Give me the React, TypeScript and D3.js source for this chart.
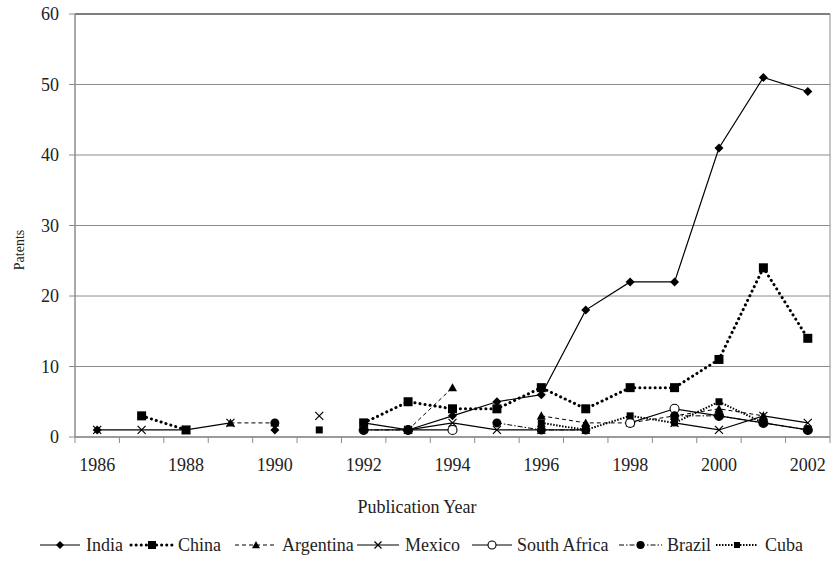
import React from "react";
import * as d3 from "d3";

const years = ["1986","1987","1988","1989","1990","1991","1992","1993","1994","1995","1996","1997","1998","1999","2000","2001","2002"];
const yTicks = [0, 10, 20, 30, 40, 50, 60];

const india = [1, null, null, null, 1, null, 2, 1, 3, 5, 6, 18, 22, 22, 41, 51, 49];
const china = [null, 3, 1, null, null, null, 2, 5, 4, 4, 7, 4, 7, 7, 11, 24, 14];
const argentina = [null, null, null, 2, 2, null, null, 1, 7, null, 3, 2, 2, 3, 4, 3, null];
const mexico = [1, 1, 1, 2, null, 3, null, 1, 2, 1, 1, 1, null, 2, 1, 3, 2];
const southAfrica = [null, null, null, null, null, null, 1, 1, 1, null, null, null, 2, 4, 3, 2, 1];
const brazil = [null, null, null, null, 2, null, 1, 1, null, 2, 1, 1, null, 3, 3, 2, 1];
const cuba = [null, null, null, null, null, 1, null, null, null, null, 2, 1, 3, 2, 5, 2, null];

const seriesNames = ["India", "China", "Argentina", "Mexico", "South Africa", "Brazil", "Cuba"];
const seriesValues = [india, china, argentina, mexico, southAfrica, brazil, cuba];

type Style = { dash: string; width: number; cap: string; marker: string; size: number };
const styles: Style[] = [
  { dash: "", width: 1.2, cap: "butt", marker: "diamond", size: 9 },
  { dash: "0.1 5", width: 3, cap: "round", marker: "square", size: 9 },
  { dash: "4 3", width: 1, cap: "butt", marker: "triangle", size: 9 },
  { dash: "", width: 1.2, cap: "butt", marker: "x", size: 8 },
  { dash: "", width: 1.2, cap: "butt", marker: "circleOpen", size: 9 },
  { dash: "5 2 1.5 2", width: 1, cap: "butt", marker: "circle", size: 9 },
  { dash: "1.5 1.5", width: 2, cap: "butt", marker: "squareSmall", size: 7 },
];

// legend layout: [lineStart, lineEnd, textX]
const legendLayout = [
  [40, 80, 86],
  [131, 173, 178],
  [235, 277, 282],
  [357, 399, 405],
  [472, 512, 517],
  [619, 662, 667],
  [716, 758, 765],
];

const FONT = "Liberation Serif";

function Marker({ kind, size, x, y }: { kind: string; size: number; x: number; y: number }) {
  const h = size / 2;
  if (kind === "diamond") {
    return <path d={`M${x},${y - h}L${x + h},${y}L${x},${y + h}L${x - h},${y}Z`} fill="#000" />;
  }
  if (kind === "square" || kind === "squareSmall") {
    return <rect x={x - h} y={y - h} width={size} height={size} fill="#000" />;
  }
  if (kind === "triangle") {
    return <path d={`M${x},${y - h}L${x + h},${y + h * 0.8}L${x - h},${y + h * 0.8}Z`} fill="#000" />;
  }
  if (kind === "x") {
    return (
      <path d={`M${x - h},${y - h}L${x + h},${y + h}M${x - h},${y + h}L${x + h},${y - h}`} stroke="#000" strokeWidth={1.2} fill="none" />
    );
  }
  if (kind === "circleOpen") {
    return <circle cx={x} cy={y} r={h} fill="#fff" stroke="#000" strokeWidth={1.1} />;
  }
  return <circle cx={x} cy={y} r={h} fill="#000" />;
}

export default function App() {
  const width = 833;
  const height = 561;
  const left = 75;
  const right = 830;
  const top = 14;
  const bottom = 437;

  const x = d3.scaleBand<string>().domain(years).range([left, right]).padding(0);
  const y = d3.scaleLinear().domain([0, 60]).range([bottom, top]);
  const cx = (i: number) => (x(years[i]) as number) + x.bandwidth() / 2;

  const line = d3
    .line<number | null>()
    .defined((d) => d != null)
    .x((_, i) => cx(i))
    .y((d) => y(d as number));

  const grey = "#8c8c8c";

  return (
    <svg width={width} height={height} style={{ position: "absolute", left: 0, top: 0, background: "#fff" }}>
      <rect x={0} y={0} width={width} height={height} fill="#fff" />
      {yTicks.map((t) => (
        <line key={"g" + t} x1={left} x2={right} y1={y(t)} y2={y(t)} stroke={t === 60 ? "#555" : grey} strokeWidth={t === 60 ? 1.5 : 1} />
      ))}
      <line x1={right} x2={right} y1={top} y2={bottom} stroke={grey} strokeWidth={1} />
      <line x1={left} x2={left} y1={top} y2={bottom} stroke={grey} strokeWidth={1.5} />
      {yTicks.map((t) => (
        <g key={"yt" + t}>
          <line x1={left - 6} x2={left} y1={y(t)} y2={y(t)} stroke={grey} strokeWidth={1} />
          <text x={left - 16} y={y(t)} dy="0.35em" textAnchor="end" fontSize={18} fill="#222" fontFamily={FONT}>
            {t}
          </text>
        </g>
      ))}
      <line x1={left} x2={right} y1={bottom} y2={bottom} stroke={grey} strokeWidth={1.5} />
      {years.map((yr) => (
        <line key={"xt" + yr} x1={x(yr) as number} x2={x(yr) as number} y1={bottom} y2={bottom + 6} stroke={grey} strokeWidth={1} />
      ))}
      <line x1={right} x2={right} y1={bottom} y2={bottom + 6} stroke={grey} strokeWidth={1} />
      {years.map((yr, i) =>
        i % 2 === 0 ? (
          <text key={"xl" + yr} x={cx(i)} y={465} dy="0.35em" textAnchor="middle" fontSize={18} fill="#222" fontFamily={FONT}>
            {yr}
          </text>
        ) : null
      )}
      <text x={417} y={507} dy="0.35em" textAnchor="middle" fontSize={18} fill="#222" fontFamily={FONT}>
        Publication Year
      </text>
      <text transform={`translate(19,250) rotate(-90)`} textAnchor="middle" dy="0.35em" fontSize={14} fill="#222" fontFamily={FONT}>
        Patents
      </text>
      {seriesValues.map((vals, s) => (
        <path
          key={"l" + s}
          d={line(vals) || ""}
          fill="none"
          stroke="#000"
          strokeWidth={styles[s].width}
          strokeDasharray={styles[s].dash || undefined}
          strokeLinecap={styles[s].cap as any}
        />
      ))}
      {seriesValues.map((vals, s) =>
        vals.map((v, i) =>
          v == null ? null : <Marker key={"m" + s + "-" + i} kind={styles[s].marker} size={styles[s].size} x={cx(i)} y={y(v)} />
        )
      )}
      {seriesNames.map((name, s) => {
        const [x1, x2, tx] = legendLayout[s];
        const ly = 545;
        return (
          <g key={"lg" + s}>
            <line x1={x1} x2={x2} y1={ly} y2={ly} stroke="#000" strokeWidth={styles[s].width} strokeDasharray={styles[s].dash || undefined} strokeLinecap={styles[s].cap as any} />
            <Marker kind={styles[s].marker} size={styles[s].size - 1} x={(x1 + x2) / 2} y={ly} />
            <text x={tx} y={ly} dy="0.35em" fontSize={18} fill="#222" fontFamily={FONT}>
              {name}
            </text>
          </g>
        );
      })}
    </svg>
  );
}
